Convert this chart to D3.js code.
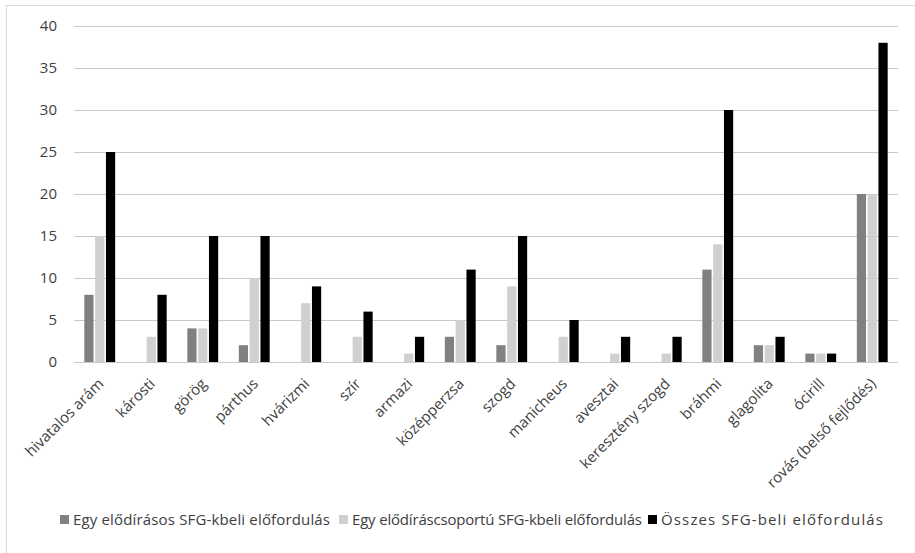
<!DOCTYPE html>
<html>
<head>
<meta charset="utf-8">
<script src="https://cdn.jsdelivr.net/npm/d3@7"></script>
<style>
  html, body { margin: 0; padding: 0; background: #fff; }
  svg { display: block; }
  text { font-family: "Open Sans", "Liberation Sans", Arial, sans-serif; fill: #404040; }
</style>
</head>
<body>
<svg id="chart" width="915" height="553"></svg>
<script>
// Írásrendszerek (kategóriák)
const categories = [
  "hivatalos arám", "károsti", "görög", "párthus", "hvárizmi", "szír",
  "armazi", "középperzsa", "szogd", "manicheus", "avesztai",
  "keresztény szogd", "bráhmi", "glagolita", "ócirill", "rovás (belső fejlődés)"
];

// Sorozatok neve
const seriesNames = [
  "Egy elődírásos SFG-kbeli előfordulás",
  "Egy elődíráscsoportú SFG-kbeli előfordulás",
  "Összes SFG-beli előfordulás"
];

// Értékek sorozatonként
const egyElodirasos   = [8, 0, 4, 2, 0, 0, 0, 3, 2, 0, 0, 0, 11, 2, 1, 20];
const elodirasCsoport = [15, 3, 4, 10, 7, 3, 1, 5, 9, 3, 1, 1, 14, 2, 1, 20];
const osszes          = [25, 8, 15, 15, 9, 6, 3, 11, 15, 5, 3, 3, 30, 3, 1, 38];

const yTicks = [0, 5, 10, 15, 20, 25, 30, 35, 40];

const seriesValues = [egyElodirasos, elodirasCsoport, osszes];
const colors = ["#808080", "#d0d0d0", "#000000"];
const fontFamily = "'Open Sans', 'Liberation Sans', Arial, sans-serif";
const fontSize = "15px";

const svg = d3.select("#chart");

// külső keret
svg.append("rect")
  .attr("x", 6.5).attr("y", 5.5)
  .attr("width", 940).attr("height", 600)
  .attr("fill", "none").attr("stroke", "#d9d9d9").attr("stroke-width", 1);

const plot = { left: 74, right: 898, top: 26, bottom: 362 };

const x = d3.scaleBand()
  .domain(categories)
  .range([plot.left, plot.right])
  .paddingInner(0).paddingOuter(0);

const y = d3.scaleLinear().domain([0, 40]).range([plot.bottom, plot.top]);

// a csoporton belüli oszlophelyek
const slot = x.bandwidth() * 0.21;
const xs = d3.scaleBand()
  .domain(d3.range(seriesNames.length))
  .range([0, slot * seriesNames.length]);
const groupOffset = (x.bandwidth() - slot * seriesNames.length) / 2;

// rácsvonalak
svg.append("g")
  .selectAll("line")
  .data(yTicks)
  .join("line")
  .attr("x1", plot.left).attr("x2", plot.right)
  .attr("y1", d => Math.round(y(d)) + 0.5)
  .attr("y2", d => Math.round(y(d)) + 0.5)
  .attr("stroke", "#c8c8c8").attr("stroke-width", 1);

// y tengely feliratai
const yAxis = d3.axisLeft(y).tickValues(yTicks).tickSize(0).tickPadding(0);
const gy = svg.append("g")
  .attr("transform", `translate(${plot.left - 17},0)`)
  .call(yAxis);
gy.select(".domain").remove();
gy.selectAll("text")
  .style("font-family", fontFamily)
  .style("font-size", fontSize)
  .attr("fill", "#404040");

// oszlopok
const groups = svg.append("g")
  .selectAll("g")
  .data(categories)
  .join("g")
  .attr("transform", d => `translate(${x(d) + groupOffset},0)`);

groups.selectAll("rect")
  .data((d, i) => seriesValues.map((vals, s) => ({ s, v: vals[i] })))
  .join("rect")
  .filter(d => d.v > 0)
  .attr("x", d => xs(d.s) + 0.8)
  .attr("width", xs.bandwidth() - 1.6)
  .attr("y", d => y(d.v))
  .attr("height", d => y(0) - y(d.v))
  .attr("fill", d => colors[d.s]);

// x tengely (alapvonal + elforgatott feliratok)
svg.append("line")
  .attr("x1", plot.left).attr("x2", plot.right)
  .attr("y1", Math.round(y(0)) + 0.5).attr("y2", Math.round(y(0)) + 0.5)
  .attr("stroke", "#c8c8c8");

const xAxis = d3.axisBottom(x).tickSize(0).tickPadding(0);
const gx = svg.append("g")
  .attr("transform", `translate(0,${plot.bottom})`)
  .call(xAxis);
gx.select(".domain").remove();
gx.selectAll("text")
  .style("font-family", fontFamily)
  .style("font-size", fontSize)
  .attr("fill", "#404040")
  .attr("text-anchor", "end")
  .attr("y", 0).attr("dy", "0.35em")
  .attr("transform", "translate(1,19) rotate(-45)");

// jelmagyarázat
const legendItems = [
  { x: 60, w: 257, name: seriesNames[0], color: colors[0] },
  { x: 339, w: 290, name: seriesNames[1], color: colors[1] },
  { x: 648, w: 222, name: seriesNames[2], color: colors[2] }
];
const lg = svg.append("g").selectAll("g")
  .data(legendItems)
  .join("g")
  .attr("transform", d => `translate(${d.x},515)`);
lg.append("rect")
  .attr("width", 9).attr("height", 9)
  .attr("fill", d => d.color);
lg.append("text")
  .attr("x", 13).attr("y", 10)
  .attr("textLength", d => d.w)
  .attr("lengthAdjust", "spacing")
  .style("font-family", fontFamily)
  .style("font-size", fontSize)
  .text(d => d.name);
</script>
</body>
</html>
